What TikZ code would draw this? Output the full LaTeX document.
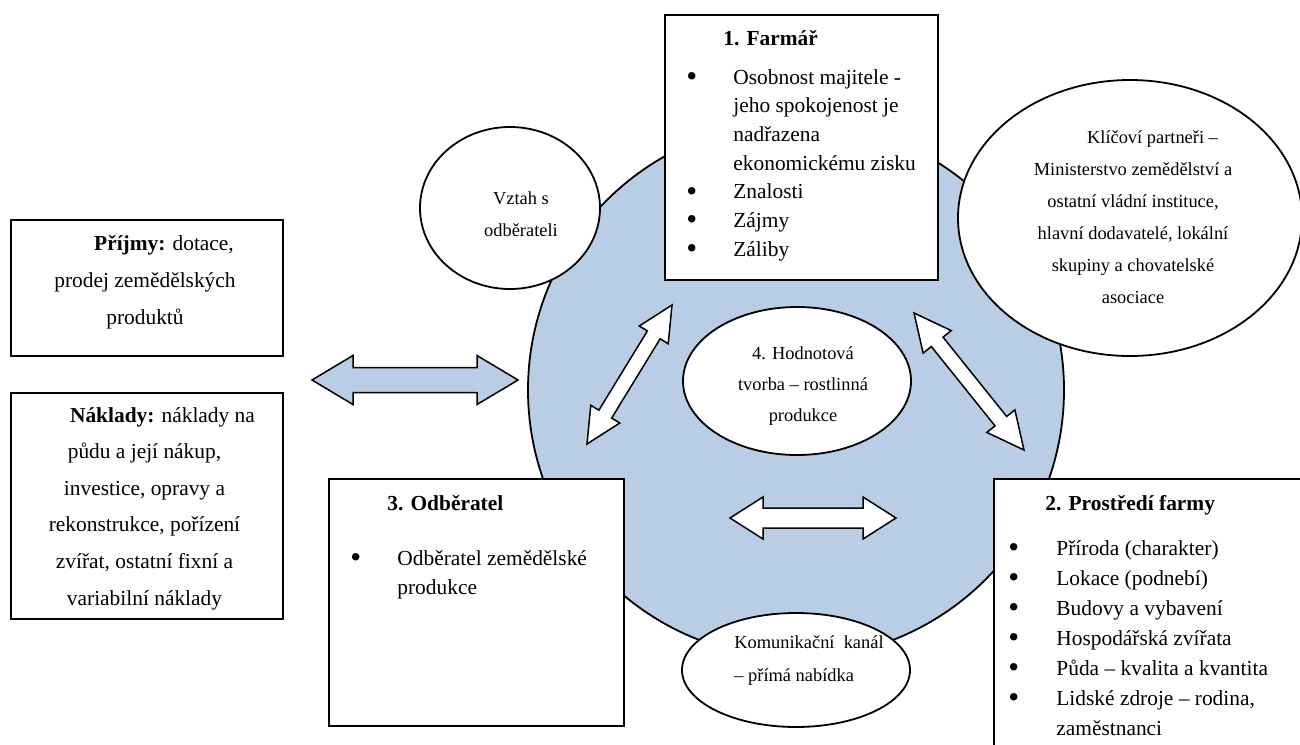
\documentclass[tikz,border=0pt]{standalone}
\usepackage{fontspec}
\setmainfont{Liberation Serif}
\usetikzlibrary{shapes.geometric,calc}
\definecolor{circblue}{RGB}{185,205,229}
\newcommand\blockarrow[6]{%
  \draw[#1] (#2)
   -- ($(#2)!#6!(#3)!#5!90:(#3)$)
   -- ($(#2)!#6!(#3)!#4!90:(#3)$)
   -- ($(#3)!#6!(#2)!#4!-90:(#2)$)
   -- ($(#3)!#6!(#2)!#5!-90:(#2)$)
   -- (#3)
   -- ($(#3)!#6!(#2)!#5!90:(#2)$)
   -- ($(#3)!#6!(#2)!#4!90:(#2)$)
   -- ($(#2)!#6!(#3)!#4!-90:(#3)$)
   -- ($(#2)!#6!(#3)!#5!-90:(#3)$)
   -- cycle;}
\newcommand\bigbul{\raisebox{-1.2pt}{\fontsize{15.5}{15.5}\selectfont\textbullet}}
\tikzset{
  boxshape/.style={draw, line width=0.9pt, fill=white, rectangle, inner sep=0pt, anchor=north west},
  ellshape/.style={draw, line width=0.9pt, fill=white, ellipse, inner sep=0pt},
  bigtxt/.style={inner sep=0pt, font=\fontsize{10.7}{#1}\selectfont},
  smalltxt/.style={inner sep=0pt, font=\fontsize{9.2}{#1}\selectfont},
  bluearrow/.style={draw=black, line width=0.75pt, fill=circblue, line join=miter},
  whitearrow/.style={draw=black, line width=0.75pt, fill=white, line join=miter}
}
\begin{document}
\begin{tikzpicture}[x=0.5pt, y=-0.5pt]
\useasboundingbox (0,0) rectangle (1300,744);
\fill[white] (0,0) rectangle (1300,744);
\clip (0,0) rectangle (1300,744);

% central circle
\node[circle, draw, line width=0.9pt, fill=circblue, minimum size=268pt, inner sep=0pt] (circ) at (796,390) {};

% ellipses on the circle
\node[ellshape, minimum width=90pt, minimum height=81pt] (vztah) at (510,208) {};
\node[ellshape, minimum width=172pt, minimum height=138pt] (partneri) at (1130,218) {};
\node[ellshape, minimum width=114pt, minimum height=74pt] (hodnota) at (797,381) {};
\node[ellshape, minimum width=114pt, minimum height=57pt] (kanal) at (796,670) {};

% boxes
\node[boxshape, minimum width=136.5pt, minimum height=132.5pt] (farmar) at (664,14) {};
\node[boxshape, minimum width=147.5pt, minimum height=123.5pt] (odberatel) at (328,478) {};
\node[boxshape, minimum width=160pt, minimum height=145pt] (prostredi) at (993,478) {};
\node[boxshape, minimum width=136pt, minimum height=68pt] (prijmy) at (10,219) {};
\node[boxshape, minimum width=136pt, minimum height=113pt] (naklady) at (10,392) {};

% block arrows
\coordinate (la1) at (312,380);
\coordinate (la2) at (518,380);
\blockarrow{bluearrow}{la1}{la2}{6.25pt}{12.25pt}{20.5pt}
\coordinate (da1) at (587,444);
\coordinate (da2) at (672,305);
\blockarrow{whitearrow}{da1}{da2}{3.75pt}{8.5pt}{17.5pt}
\coordinate (db1) at (914,313);
\coordinate (db2) at (1024,450);
\blockarrow{whitearrow}{db1}{db2}{3.75pt}{9pt}{18.5pt}
\coordinate (ha1) at (730,518);
\coordinate (ha2) at (896,518);
\blockarrow{whitearrow}{ha1}{ha2}{5pt}{10.5pt}{16.5pt}

% texts
\node[bigtxt=14.35pt, anchor=base west] (farmarhead) at (723,45) {\textbf{1. Farmář}};
\node[bigtxt=14.35pt, anchor=base west] (farmarlist) at (686,84) {\begin{tabular}[t]{@{}l@{}l@{}}
\makebox[23.5pt][l]{\bigbul} & Osobnost majitele -\\
 & jeho spokojenost je\\
 & nadřazena\\
 & ekonomickému zisku\\
\bigbul & Znalosti\\
\bigbul & Zájmy\\
\bigbul & Záliby
\end{tabular}};

\node[bigtxt=15pt, anchor=base west] (prostredihead) at (1045,510) {\textbf{2. Prostředí farmy}};
\node[bigtxt=15pt, anchor=base west] (prostredilist) at (1008,555) {\begin{tabular}[t]{@{}l@{}l@{}}
\makebox[24pt][l]{\bigbul} & Příroda (charakter)\\
\bigbul & Lokace (podnebí)\\
\bigbul & Budovy a vybavení\\
\bigbul & Hospodářská zvířata\\
\bigbul & Půda – kvalita a kvantita\\
\bigbul & Lidské zdroje – rodina,\\
 & zaměstnanci
\end{tabular}};

\node[bigtxt=14.5pt, anchor=base west] (odberatelhead) at (387,510) {\textbf{3. Odběratel}};
\node[bigtxt=14.5pt, anchor=base west] (odberatellist) at (350,565) {\begin{tabular}[t]{@{}l@{}l@{}}
\makebox[23.5pt][l]{\bigbul} & Odběratel zemědělské\\
 & produkce
\end{tabular}};

\node[bigtxt=18.5pt, anchor=base] (prijmytext) at (145,250) {\begin{tabular}[t]{@{}c@{}}
\hspace*{19pt}\textbf{Příjmy:} dotace,\\
prodej zemědělských\\
produktů
\end{tabular}};

\node[bigtxt=18.3pt, anchor=base] (nakladytext) at (144.5,422) {\begin{tabular}[t]{@{}c@{}}
\hspace*{18pt}\textbf{Náklady:} náklady na\\
půdu a její nákup,\\
investice, opravy a\\
rekonstrukce, pořízení\\
zvířat, ostatní fixní a\\
variabilní náklady
\end{tabular}};

\node[smalltxt=16pt, anchor=base] (vztahtext) at (521,204) {\begin{tabular}[t]{@{}c@{}}
Vztah s\\
odběrateli
\end{tabular}};

\node[smalltxt=16pt, anchor=base] (partneritext) at (1133,143) {\begin{tabular}[t]{@{}c@{}}
\hspace*{19.5pt}Klíčoví partneři –\\
Ministerstvo zemědělství a\\
ostatní vládní instituce,\\
hlavní dodavatelé, lokální\\
skupiny a chovatelské\\
asociace
\end{tabular}};

\node[smalltxt=15.5pt, anchor=base] (hodnotatext) at (803,359) {\begin{tabular}[t]{@{}c@{}}
4. Hodnotová\\
tvorba – rostlinná\\
produkce
\end{tabular}};

\node[smalltxt=16.5pt, anchor=base west] (kanaltext) at (734,648) {\begin{tabular}[t]{@{}l@{}}
Komunikační\ \ kanál\\
– přímá nabídka
\end{tabular}};
\end{tikzpicture}
\end{document}
